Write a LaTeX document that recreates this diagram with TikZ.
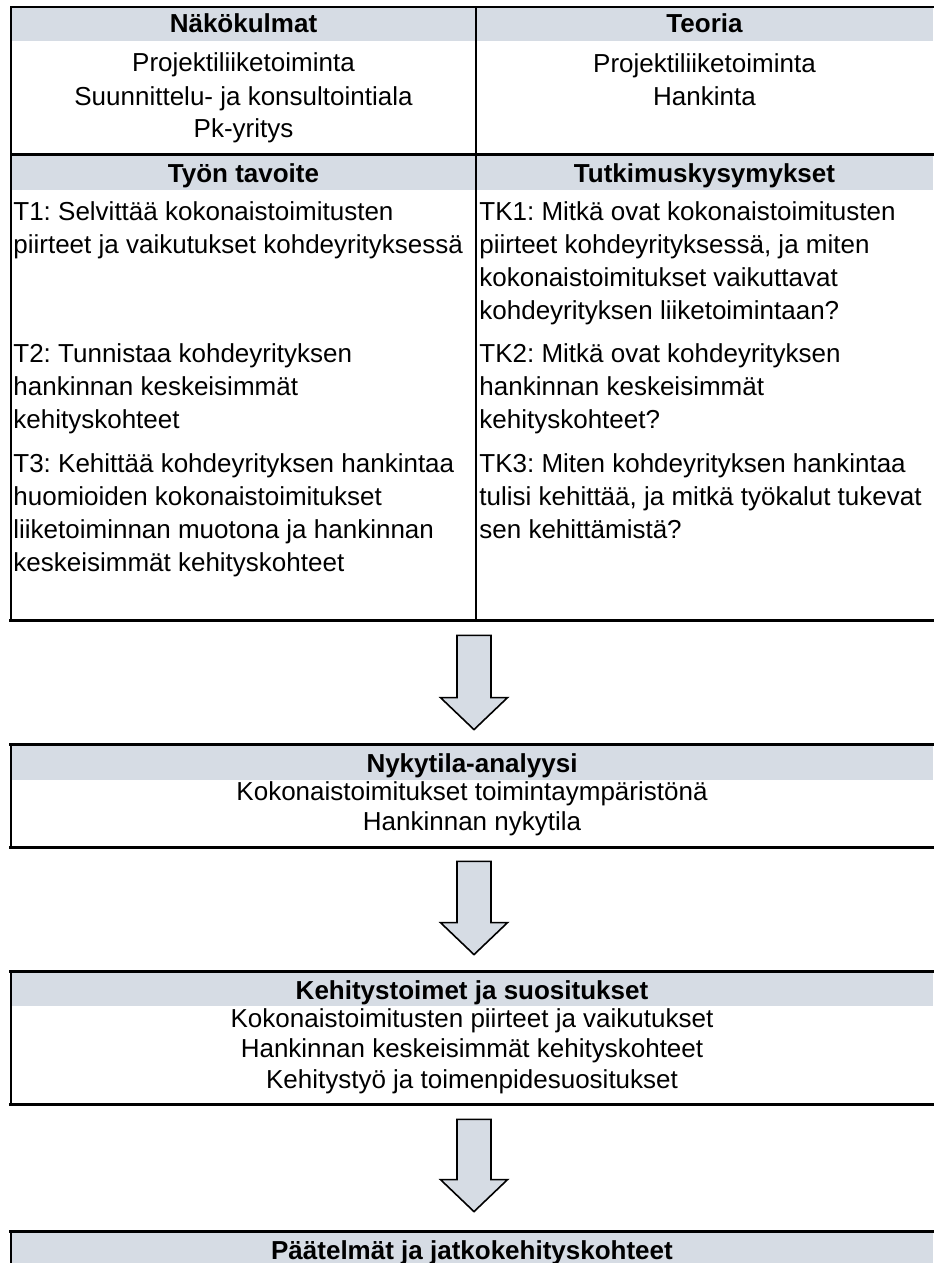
\documentclass[tikz,border=0pt]{standalone}
\usepackage{fontspec}
\setmainfont{Liberation Sans}
\usetikzlibrary{calc}
\definecolor{hdrgray}{RGB}{214,220,228}
\tikzset{
  rulethick/.style={line width=1.5pt, line cap=rect},
  rulethin/.style={line width=1pt, line cap=rect},
  headtext/.style={font=\fontsize{13}{16.5}\selectfont\bfseries\frenchspacing, inner sep=0pt, anchor=base},
  bodyc/.style={font=\fontsize{13}{16.5}\selectfont\frenchspacing, inner sep=0pt, anchor=base, align=center},
  bodyclow/.style={font=\fontsize{13}{15.25}\selectfont\frenchspacing, inner sep=0pt, anchor=base, align=center},
  bodyl/.style={font=\fontsize{13}{16.5}\selectfont\frenchspacing, inner sep=0pt, anchor=base west, align=left},
  boxframe/.style={inner sep=0pt, minimum width=461pt},
  arrowshape/.style={draw=black, line width=0.8pt, fill=hdrgray, line join=miter},
}
% hollow block arrow pointing down from #1 (top centre) to #2 (tip)
\newcommand\blockarrow[2]{%
  \draw[arrowshape] ($(#1)+(-17,0)$) -- ($(#1)+(17,0)$) -- ($(#2)+(17,-32)$)
    -- ($(#2)+(33.5,-32)$) -- (#2) -- ($(#2)+(-33.5,-32)$) -- ($(#2)+(-17,-32)$) -- cycle;}

\begin{document}
\begin{tikzpicture}[x=0.5pt, y=-0.5pt]
\useasboundingbox (0,0) rectangle (933,1263);

% frames of the table and the three boxes below it
\node[boxframe, minimum height=306.5pt] (tab) at (472,313.5) {};
\node[boxframe, minimum height=51pt] (nyk) at (472,796) {};
\node[boxframe, minimum height=66pt] (keh) at (472,1038) {};
\node[boxframe, minimum height=34pt] (pae) at (472,1266) {};
\coordinate (colsep) at (476,7);
\coordinate (rowsep) at (11,154);

% header bands
\fill[hdrgray] ($(tab.north west)+(1,1)$) rectangle ($(tab.north east)+(0,34)$);
\fill[hdrgray] ($(rowsep)+(1,1)$) rectangle ($(tab.east |- rowsep)+(0,36)$);
\fill[hdrgray] ($(nyk.north west)+(1,1)$) rectangle ($(nyk.north east)+(0,35)$);
\fill[hdrgray] ($(keh.north west)+(1,1)$) rectangle ($(keh.north east)+(0,34)$);
\fill[hdrgray] ($(pae.north west)+(1,1)$) rectangle ($(pae.north east)+(0,40)$);

% table rules
\draw[rulethin] (tab.north west) -- (tab.north east);
\draw[rulethin] (tab.north west) -- (tab.south west);
\draw[rulethin] (colsep) -- (colsep |- tab.south);
\draw[rulethick] (rowsep) -- (rowsep -| tab.east);
\draw[rulethick] (tab.south west) -- (tab.south east);

% box rules
\draw[rulethick] (nyk.north west) -- (nyk.north east);
\draw[rulethin] (nyk.north west) -- (nyk.south west);
\draw[rulethick] (nyk.south west) -- (nyk.south east);
\draw[rulethick] (keh.north west) -- (keh.north east);
\draw[rulethin] (keh.north west) -- (keh.south west);
\draw[rulethick] (keh.south west) -- (keh.south east);
\draw[rulethick] (pae.north west) -- (pae.north east);
\draw[rulethin] (pae.north west) -- (pae.south west);

% table texts (multi-line nodes are placed by the baseline of their last line)
\node[headtext] (hNako) at (243.5,33) {Näkökulmat};
\node[headtext] (hTeor) at (704.5,33) {Teoria};
\node[bodyc] (bNako) at (243.5,138) {Projektiliiketoiminta\\Suunnittelu- ja konsultointiala\\Pk-yritys};
\node[bodyc] (bTeor) at (704.5,105) {Projektiliiketoiminta\\Hankinta};
\node[headtext] (hTav) at (243.5,182) {Työn tavoite};
\node[headtext] (hTk) at (704.5,182) {Tutkimuskysymykset};
\node[bodyl] (t1) at (13,253) {T1: Selvittää kokonaistoimitusten\\piirteet ja vaikutukset kohdeyrityksessä};
\node[bodyl] (tk1) at (479,319) {TK1: Mitkä ovat kokonaistoimitusten\\piirteet kohdeyrityksessä, ja miten\\kokonaistoimitukset vaikuttavat\\kohdeyrityksen liiketoimintaan?};
\node[bodyl] (t2) at (13,428) {T2: Tunnistaa kohdeyrityksen\\hankinnan keskeisimmät\\kehityskohteet};
\node[bodyl] (tk2) at (479,428) {TK2: Mitkä ovat kohdeyrityksen\\hankinnan keskeisimmät\\kehityskohteet?};
\node[bodyl] (t3) at (13,571) {T3: Kehittää kohdeyrityksen hankintaa\\huomioiden kokonaistoimitukset\\liiketoiminnan muotona ja hankinnan\\keskeisimmät kehityskohteet};
\node[bodyl] (tk3) at (479,538) {TK3: Miten kohdeyrityksen hankintaa\\tulisi kehittää, ja mitkä työkalut tukevat\\sen kehittämistä?};

% box texts
\node[headtext] (hNyk) at (472,772) {Nykytila-analyysi};
\node[bodyclow] (bNyk) at (472,830.5) {Kokonaistoimitukset toimintaympäristönä\\Hankinnan nykytila};
\node[headtext] (hKeh) at (472,999) {Kehitystoimet ja suositukset};
\node[bodyclow] (bKeh) at (472,1088) {Kokonaistoimitusten piirteet ja vaikutukset\\Hankinnan keskeisimmät kehityskohteet\\Kehitystyö ja toimenpidesuositukset};
\node[headtext] (hPae) at (472,1259) {Päätelmät ja jatkokehityskohteet};

% block arrows between the stages
\coordinate (a1s) at ($(tab.south)+(2,15)$);
\coordinate (a1e) at ($(nyk.north)+(2,-15)$);
\coordinate (a2s) at ($(nyk.south)+(2,14)$);
\coordinate (a2e) at ($(keh.north)+(2,-17)$);
\coordinate (a3s) at ($(keh.south)+(2,15)$);
\coordinate (a3e) at ($(pae.north)+(2,-20)$);
\blockarrow{a1s}{a1e}
\blockarrow{a2s}{a2e}
\blockarrow{a3s}{a3e}
\end{tikzpicture}
\end{document}
